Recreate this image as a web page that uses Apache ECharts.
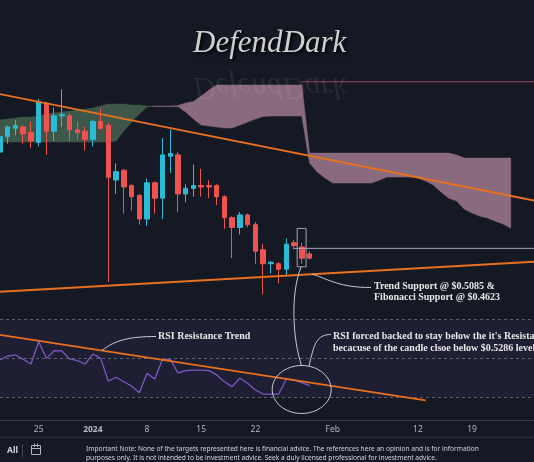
<!DOCTYPE html>
<html>
<head>
<meta charset="utf-8">
<script src="https://cdn.jsdelivr.net/npm/echarts/dist/echarts.min.js"></script>
<style>
  html, body { margin: 0; padding: 0; background: #151924; }
  #main { width: 534px; height: 462px; }
</style>
</head>
<body>
<div id="main"></div>
<script>
// x = days since 2023-12-20
const tickDays = [5, 12, 19, 26, 33, 43, 54, 61];
const tickLabels = ["25", "2024", "8", "15", "22", "Feb", "12", "19"];

// daily candles, 2023-12-20 .. 2024-01-29
const open  = [0.596, 0.607, 0.613, 0.614, 0.610, 0.603, 0.631, 0.611, 0.622, 0.622, 0.612, 0.611, 0.605, 0.618,
               0.615, 0.576, 0.583, 0.572, 0.565, 0.548, 0.574, 0.563, 0.593, 0.594, 0.566, 0.570, 0.572, 0.572,
               0.572, 0.564, 0.549, 0.542, 0.551, 0.544, 0.526, 0.516, 0.516, 0.512, 0.531, 0.528, 0.523];
const close = [0.607, 0.614, 0.615, 0.609, 0.604, 0.632, 0.611, 0.622, 0.623, 0.612, 0.610, 0.605, 0.618, 0.613,
               0.578, 0.582, 0.571, 0.564, 0.548, 0.574, 0.563, 0.594, 0.595, 0.566, 0.570, 0.572, 0.571, 0.571,
               0.564, 0.549, 0.542, 0.551, 0.544, 0.525, 0.516, 0.517, 0.512, 0.530, 0.529, 0.520, 0.520];
const low   = [0.594, 0.602, 0.608, 0.602, 0.599, 0.600, 0.594, 0.604, 0.614, 0.604, 0.605, 0.597, 0.600, 0.612,
               0.503, 0.566, 0.552, 0.554, 0.544, 0.543, 0.552, 0.548, 0.581, 0.553, 0.560, 0.564, 0.564, 0.563,
               0.558, 0.541, 0.520, 0.537, 0.542, 0.516, 0.494, 0.509, 0.502, 0.507, 0.526, 0.516, 0.519];
const high  = [0.609, 0.615, 0.619, 0.615, 0.618, 0.634, 0.632, 0.628, 0.641, 0.624, 0.618, 0.614, 0.619, 0.627,
               0.617, 0.588, 0.584, 0.573, 0.566, 0.577, 0.575, 0.606, 0.612, 0.596, 0.573, 0.587, 0.584, 0.576,
               0.573, 0.565, 0.550, 0.553, 0.552, 0.546, 0.530, 0.518, 0.517, 0.534, 0.533, 0.531, 0.525];

// ichimoku cloud (already displaced), days 0..66
const spanA = [0.6190, 0.6197, 0.6204, 0.6211, 0.6211, 0.6218, 0.6233, 0.6240, 0.6247, 0.6254, 0.6261, 0.6268,
               0.6276, 0.6290, 0.6304, 0.6304, 0.6304, 0.6297, 0.6297, 0.6290, 0.6286, 0.6286, 0.6286, 0.6286,
               0.6247, 0.6197, 0.6154, 0.6147, 0.6139, 0.6132, 0.6132, 0.6154, 0.6175, 0.6197, 0.6215, 0.6218,
               0.6218, 0.6218, 0.6218, 0.6218, 0.5881, 0.5817, 0.5774, 0.5738, 0.5738, 0.5738, 0.5738, 0.5738,
               0.5738, 0.5759, 0.5781, 0.5781, 0.5781, 0.5781, 0.5774, 0.5752, 0.5724, 0.5673, 0.5630, 0.5609,
               0.5551, 0.5523, 0.5501, 0.5487, 0.5465, 0.5444, 0.5415];
const spanB = [0.6032, 0.6032, 0.6032, 0.6032, 0.6032, 0.6032, 0.6032, 0.6032, 0.6032, 0.6032, 0.6032, 0.6032,
               0.6032, 0.6032, 0.6032, 0.6039, 0.6111, 0.6175, 0.6233, 0.6283, 0.6290, 0.6290, 0.6290, 0.6294,
               0.6312, 0.6322, 0.6362, 0.6405, 0.6441, 0.6441, 0.6441, 0.6441, 0.6441, 0.6441, 0.6441, 0.6441,
               0.6441, 0.6441, 0.6441, 0.6441, 0.5953, 0.5953, 0.5953, 0.5953, 0.5953, 0.5953, 0.5953, 0.5953,
               0.5953, 0.5953, 0.5953, 0.5953, 0.5953, 0.5953, 0.5953, 0.5953, 0.5953, 0.5953, 0.5953, 0.5939,
               0.5917, 0.5917, 0.5917, 0.5917, 0.5917, 0.5917, 0.5917];

// RSI(14), days 0..40
const rsi = [49.3, 51.3, 51.8, 49.6, 47.2, 58.6, 50.1, 54.0, 53.9, 49.8, 48.9, 47.2, 52.3, 50.1, 38.5, 40.4,
             38.1, 35.9, 32.5, 42.4, 39.5, 49.6, 49.6, 42.6, 43.8, 44.1, 44.1, 43.8, 41.6, 38.1, 35.6, 39.9,
             37.3, 33.9, 31.8, 31.8, 31.8, 39.4, 39.0, 37.6, 36.1];

// drawings
const resistanceLine = [[0, 0.6376], [69, 0.5613]];
const supportLine = [[0, 0.4959], [69, 0.5174]];
const closeLevel = [[38, 0.527], [69, 0.527]];
const upperLevel = [[39, 0.6464], [69, 0.6464]];
const boxedCandle = [[38.4, 0.5413], [39.55, 0.5138]];
const rsiTrendLine = [[0, 62.1], [55, 28.6]];
const rsiLevels = [70, 50, 30];

const candles = open.map((o, i) => [i, o, close[i], low[i], high[i]]);

const ORANGE = "#e8701f";
const TEXT = "#d1d4dc";
const NOTE = "#c8cad0";
const CLOUD_UP = "#3e5748";
const CLOUD_DOWN = "#8a6b7d";

// split the cloud into runs where span A stays above (or below) span B
function cloudRuns() {
  const runs = [];
  let cur = null;
  for (let i = 0; i < spanA.length; i++) {
    const d = spanA[i] - spanB[i];
    const up = d >= 0;
    if (cur && cur.up !== up) {
      const dp = spanA[i - 1] - spanB[i - 1];
      const t = dp / (dp - d);
      const x = i - 1 + t;
      const y = spanA[i - 1] + t * (spanA[i] - spanA[i - 1]);
      cur.pts.push([x, y, y]);
      runs.push(cur);
      cur = { up: up, pts: [[x, y, y]] };
    }
    if (!cur) cur = { up: up, pts: [] };
    cur.pts.push([i, spanA[i], spanB[i]]);
  }
  runs.push(cur);
  return runs;
}
const runs = cloudRuns();

function renderCloud(params, api) {
  const run = runs[api.value(0)];
  const top = run.pts.map((p) => api.coord([p[0], p[1]]));
  const bottom = run.pts.map((p) => api.coord([p[0], p[2]])).reverse();
  const color = run.up ? CLOUD_UP : CLOUD_DOWN;
  return {
    type: "polygon", shape: { points: top.concat(bottom) },
    style: { fill: color, stroke: color, lineWidth: 0.5 }
  };
}

const chart = echarts.init(document.getElementById("main"));

const plainLine = (data, color, width, z) => ({
  type: "line", data: data, xAxisIndex: 0, yAxisIndex: 0, showSymbol: false, silent: true, z: z,
  lineStyle: { color: color, width: width }
});

const option = {
  backgroundColor: "#151924",
  animation: false,
  grid: [
    { left: 0, top: 0, width: 536, height: 300 },
    { left: 0, top: 300, width: 536, height: 120 }
  ],
  xAxis: [
    { gridIndex: 0, type: "value", min: 0, max: 69, show: false },
    {
      gridIndex: 1, type: "value", min: 0, max: 69,
      axisLine: { show: true, lineStyle: { color: "#363a45" } },
      axisTick: { show: false },
      splitLine: { show: false },
      axisLabel: {
        customValues: tickDays,
        margin: 5,
        color: "#b2b5be",
        fontSize: 8.5,
        fontFamily: "Noto Sans",
        formatter: (v) => {
          const t = tickLabels[tickDays.indexOf(v)] || "";
          return t === "2024" ? "{b|" + t + "}" : t;
        },
        rich: { b: { fontWeight: "bold", fontSize: 8.5, color: "#b2b5be", fontFamily: "Noto Sans" } }
      }
    }
  ],
  yAxis: [
    { gridIndex: 0, type: "value", min: 0.49, max: 0.705, show: false },
    { gridIndex: 1, type: "value", min: 18.5, max: 80, show: false }
  ],
  series: [
    {
      type: "custom", xAxisIndex: 0, yAxisIndex: 0, z: 1, silent: true,
      data: runs.map((r, k) => [k, r.pts[0][1]]),
      encode: { x: 0, y: 1 },
      renderItem: renderCloud
    },
    {
      type: "candlestick", data: candles, xAxisIndex: 0, yAxisIndex: 0, barWidth: 5, z: 3, silent: true,
      itemStyle: { color: "#2bbbd6", color0: "#ef5350", borderColor: "#2bbbd6", borderColor0: "#ef5350", borderWidth: 1 },
      markArea: {
        silent: true,
        itemStyle: { color: "rgba(0,0,0,0)", borderColor: "#a3a6af", borderWidth: 1 },
        data: [[{ coord: boxedCandle[0] }, { coord: boxedCandle[1] }]]
      }
    },
    plainLine(closeLevel, "#a3a6af", 1, 4),
    plainLine(upperLevel, "#8c4a5c", 1, 4),
    plainLine(resistanceLine, ORANGE, 1.8, 5),
    plainLine(supportLine, ORANGE, 1.8, 5),
    // RSI pane
    {
      type: "line", data: rsi.map((v, i) => [i, v]), xAxisIndex: 1, yAxisIndex: 1, showSymbol: false,
      silent: true, z: 3, lineStyle: { color: "#7e57c2", width: 1.3 },
      markArea: {
        silent: true,
        itemStyle: { color: "rgba(126,87,194,0.1)" },
        data: [[{ yAxis: 30 }, { yAxis: 70 }]]
      },
      markLine: {
        silent: true, symbol: ["none", "none"], label: { show: false },
        lineStyle: { color: "#5d606b", type: [3, 3], width: 1 },
        data: rsiLevels.map((v) => ({ yAxis: v }))
      }
    },
    {
      type: "line", data: rsiTrendLine, xAxisIndex: 1, yAxisIndex: 1, showSymbol: false, silent: true, z: 5,
      lineStyle: { color: ORANGE, width: 1.8 }
    }
  ],
  graphic: [
    // watermark
    { type: "text", x: 193, y: 28, z: 50, style: {
        text: "DefendDark", font: 'italic 31px "Liberation Serif"', fill: "#cfcfcf",
        textShadowColor: "rgba(0,0,0,0.9)", textShadowBlur: 3, textShadowOffsetX: 2, textShadowOffsetY: 2 } },
    { type: "text", x: 193, y: 102, scaleY: -1, z: 50, style: {
        text: "DefendDark", font: 'italic 31px "Liberation Serif"', fill: "rgba(200,200,200,0.10)" } },
    // annotations
    { type: "bezierCurve", z: 60, shape: { x1: 312, y1: 274, cpx1: 330, cpy1: 280, cpx2: 340, cpy2: 287.5, x2: 371, y2: 287.5 },
      style: { stroke: NOTE, lineWidth: 1, fill: null } },
    { type: "text", x: 374, y: 280.5, z: 60, style: {
        text: "Trend Support @ $0.5085 &\nFibonacci Support @ $0.4623",
        font: 'bold 10px "Liberation Serif"', fill: "#e6e6e6", lineHeight: 11.5 } },
    { type: "bezierCurve", z: 60, shape: { x1: 301, y1: 267, cpx1: 290, cpy1: 295, cpx2: 293, cpy2: 340, x2: 301.5, y2: 365.5 },
      style: { stroke: NOTE, lineWidth: 1, fill: null } },
    { type: "ellipse", z: 60, shape: { cx: 301.7, cy: 389.5, rx: 29.5, ry: 24 },
      style: { stroke: NOTE, lineWidth: 1, fill: null } },
    { type: "bezierCurve", z: 60, shape: { x1: 309, y1: 366, cpx1: 314, cpy1: 345, cpx2: 316, cpy2: 334.5, x2: 331, y2: 334.5 },
      style: { stroke: NOTE, lineWidth: 1, fill: null } },
    { type: "text", x: 333, y: 330.5, z: 60, style: {
        text: "RSI forced backed to stay below the it's Resistance Trend\nbecacuse of the candle clsoe below $0.5286 level",
        font: 'bold 10px "Liberation Serif"', fill: "#e6e6e6", lineHeight: 12 } },
    { type: "bezierCurve", z: 60, shape: { x1: 102, y1: 350.5, cpx1: 115, cpy1: 340, cpx2: 130, cpy2: 336.5, x2: 156, y2: 336.5 },
      style: { stroke: NOTE, lineWidth: 1, fill: null } },
    { type: "text", x: 158, y: 331, z: 60, style: {
        text: "RSI Resistance Trend", font: 'bold 10px "Liberation Serif"', fill: "#e6e6e6" } },
    // bottom bar
    { type: "line", z: 40, shape: { x1: 0, y1: 437.5, x2: 534, y2: 437.5 }, style: { stroke: "#262a35", lineWidth: 1 } },
    { type: "text", x: 7, y: 446, z: 40, style: { text: "All", font: 'bold 8.5px "Noto Sans"', fill: TEXT } },
    { type: "line", z: 40, shape: { x1: 22.5, y1: 444, x2: 22.5, y2: 457 }, style: { stroke: "#434651", lineWidth: 1 } },
    { type: "rect", z: 40, shape: { x: 31.5, y: 445.5, width: 9, height: 9 }, style: { stroke: "#b2b5be", lineWidth: 1, fill: null } },
    { type: "line", z: 40, shape: { x1: 34.5, y1: 443.5, x2: 34.5, y2: 447 }, style: { stroke: "#b2b5be", lineWidth: 1 } },
    { type: "line", z: 40, shape: { x1: 37.5, y1: 443.5, x2: 37.5, y2: 447 }, style: { stroke: "#b2b5be", lineWidth: 1 } },
    { type: "line", z: 40, shape: { x1: 31.5, y1: 448.5, x2: 40.5, y2: 448.5 }, style: { stroke: "#b2b5be", lineWidth: 1 } },
    { type: "text", x: 86, y: 444, z: 40, style: {
        text: "Important Note: None of the targets represented here is financial advice. The references here an opinion and is for information\npurposes only. It is not intended to be investment advice. Seek a duly licensed professional for investment advice.",
        font: '6.6px "Noto Sans"', fill: TEXT, lineHeight: 9.5 } }
  ]
};

chart.setOption(option);
</script>
</body>
</html>
